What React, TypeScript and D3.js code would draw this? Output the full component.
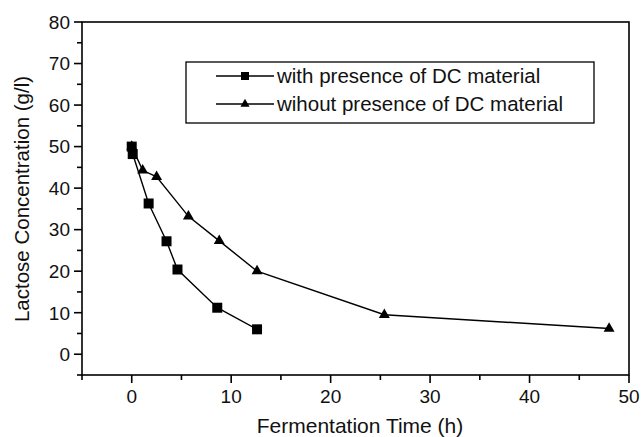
import React from 'react'
import * as d3 from 'd3'

// with presence of DC material (squares)
const withTime = [0, 0.1, 1.7, 3.5, 4.6, 8.6, 12.6]
const withConc = [50, 48.2, 36.3, 27.2, 20.4, 11.2, 6]

// wihout presence of DC material (triangles)
const withoutTime = [0, 1.1, 2.5, 5.7, 8.8, 12.6, 25.4, 48]
const withoutConc = [50, 44.3, 42.7, 33.2, 27.3, 20, 9.5, 6.2]

const xTicks = [0, 10, 20, 30, 40, 50]
const yTicks = [0, 10, 20, 30, 40, 50, 60, 70, 80]
const legendLabels = ['with presence of DC material', 'wihout presence of DC material']

const W = 641
const H = 437
const margin = { top: 22, right: 12, bottom: 62, left: 82 }
const font = '"Liberation Sans", Arial, sans-serif'

const App = () => {
  const x = d3.scaleLinear().domain([-5, 50]).range([margin.left, W - margin.right])
  const y = d3.scaleLinear().domain([-5, 80]).range([H - margin.bottom, margin.top])

  const line = d3.line<[number, number]>()
    .x(d => x(d[0]))
    .y(d => y(d[1]))

  const sq: [number, number][] = withTime.map((t, i) => [t, withConc[i]])
  const tri: [number, number][] = withoutTime.map((t, i) => [t, withoutConc[i]])

  const squareSym = d3.symbol().type(d3.symbolSquare).size(100)()
  const triSym = d3.symbol().type(d3.symbolTriangle).size(52)()
  const squareSmall = d3.symbol().type(d3.symbolSquare).size(64)()
  const triSmall = d3.symbol().type(d3.symbolTriangle).size(36)()

  const x0 = x.range()[0], x1 = x.range()[1]
  const y0 = y.range()[0], y1 = y.range()[1]

  const xMinor = d3.range(-5, 51, 5).filter(v => v % 10 !== 0)
  const yMinor = d3.range(-5, 81, 5).filter(v => v % 10 !== 0)

  const legendX = 186, legendY = 62
  const legendW = 408, legendH = 61

  return (
    <div style={{ position: 'absolute', left: 0, top: 0 }}>
      <svg width={W} height={H} style={{ background: '#fff', display: 'block' }} fontFamily={font} fill="#111">
        {/* frame */}
        <rect x={x0} y={y1} width={x1 - x0} height={y0 - y1} fill="none" stroke="#000" strokeWidth={1.6} />

        {/* y axis */}
        {yTicks.map(v => (
          <g key={'y' + v}>
            <line x1={x0 - 8} x2={x0} y1={y(v)} y2={y(v)} stroke="#000" strokeWidth={1.6} />
            <text x={x0 - 12} y={y(v)} dy="0.36em" textAnchor="end" fontSize={19}>{v}</text>
          </g>
        ))}
        {yMinor.map(v => (
          <line key={'ym' + v} x1={x0 - 5} x2={x0} y1={y(v)} y2={y(v)} stroke="#000" strokeWidth={1.6} />
        ))}

        {/* x axis */}
        {xTicks.map(v => (
          <g key={'x' + v}>
            <line x1={x(v)} x2={x(v)} y1={y0} y2={y0 + 8} stroke="#000" strokeWidth={1.6} />
            <text x={x(v)} y={y0 + 28} textAnchor="middle" fontSize={19}>{v}</text>
          </g>
        ))}
        {xMinor.map(v => (
          <line key={'xm' + v} x1={x(v)} x2={x(v)} y1={y0} y2={y0 + 5} stroke="#000" strokeWidth={1.6} />
        ))}

        {/* axis titles */}
        <text x={360} y={433} textAnchor="middle" fontSize={21}>Fermentation Time (h)</text>
        <text transform={`translate(29,199) rotate(-90)`} textAnchor="middle" fontSize={20.5}>
          Lactose Concentration (g/l)
        </text>

        {/* series */}
        <path d={line(tri) || ''} fill="none" stroke="#000" strokeWidth={1.4} />
        <path d={line(sq) || ''} fill="none" stroke="#000" strokeWidth={1.4} />
        {tri.map((d, i) => (
          <path key={'t' + i} d={triSym || ''} transform={`translate(${x(d[0])},${y(d[1])})`} fill="#000" />
        ))}
        {sq.map((d, i) => (
          <path key={'s' + i} d={squareSym || ''} transform={`translate(${x(d[0])},${y(d[1])})`} fill="#000" />
        ))}

        {/* legend */}
        <rect x={legendX} y={legendY} width={legendW} height={legendH} fill="#fff" stroke="#000" strokeWidth={1.3} />
        {legendLabels.map((lab, i) => {
          const ly = legendY + 14 + i * 28
          return (
            <g key={'l' + i}>
              <line x1={legendX + 30} x2={legendX + 88} y1={ly} y2={ly} stroke="#000" strokeWidth={1.6} />
              <path d={(i === 0 ? squareSmall : triSmall) || ''} transform={`translate(${legendX + 59},${ly})`} fill="#000" />
              <text x={legendX + 91} y={ly} dy="0.36em" fontSize={20.5}>{lab}</text>
            </g>
          )
        })}
      </svg>
    </div>
  )
}

export default App
